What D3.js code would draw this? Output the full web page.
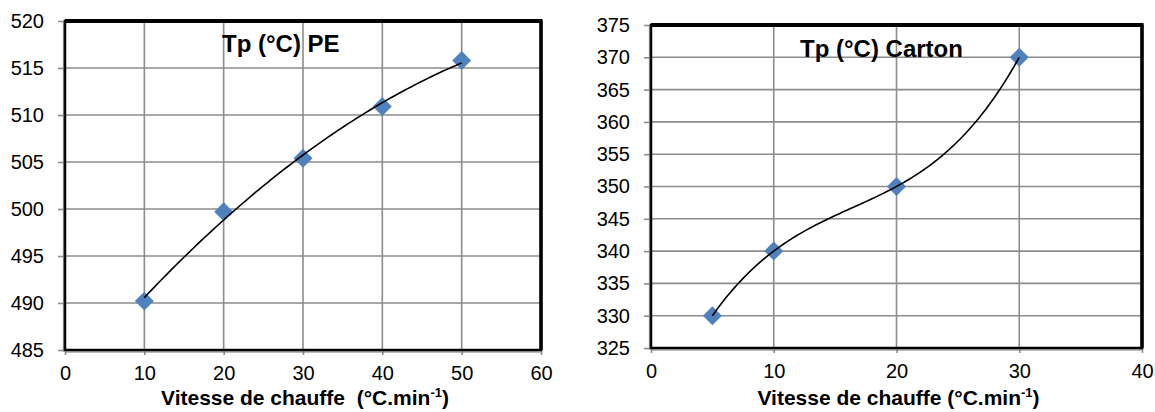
<!DOCTYPE html>
<html>
<head>
<meta charset="utf-8">
<script src="https://cdn.jsdelivr.net/npm/d3@7"></script>
<style>
  html, body { margin: 0; padding: 0; background: #fff; }
  svg { display: block; font-family: "Liberation Sans", Arial, sans-serif; }
</style>
</head>
<body>
<svg id="chart" width="1155" height="412"></svg>
<script>
// ---- Data ----
const peX = [10, 20, 30, 40, 50];
const peY = [490.2, 499.7, 505.4, 510.9, 515.8];
const peTitle = "Tp (°C) PE";
const peXTicks = [0, 10, 20, 30, 40, 50, 60];
const peYTicks = [485, 490, 495, 500, 505, 510, 515, 520];
const peTrendOrder = 2;

const cartonX = [5, 10, 20, 30];
const cartonY = [330, 340, 350, 370];
const cartonTitle = "Tp (°C) Carton";
const cartonXTicks = [0, 10, 20, 30, 40];
const cartonYTicks = [325, 330, 335, 340, 345, 350, 355, 360, 365, 370, 375];
const cartonTrendOrder = 3;

const xTitleMain = ["Vitesse de chauffe  (°C.min", "Vitesse de chauffe (°C.min"];
const xTitleSup = "-1";

const svg = d3.select("#chart");

// least-squares polynomial fit (trendline), solved by Gaussian elimination
function polyFit(xs, ys, order) {
  const n = order + 1;
  const A = Array.from({ length: n }, () => new Array(n + 1).fill(0));
  for (let r = 0; r < n; r++) {
    for (let c = 0; c < n; c++) A[r][c] = d3.sum(xs, x => Math.pow(x, r + c));
    A[r][n] = d3.sum(xs, (x, i) => ys[i] * Math.pow(x, r));
  }
  for (let i = 0; i < n; i++) {
    let p = i;
    for (let k = i + 1; k < n; k++) if (Math.abs(A[k][i]) > Math.abs(A[p][i])) p = k;
    [A[i], A[p]] = [A[p], A[i]];
    for (let k = i + 1; k < n; k++) {
      const f = A[k][i] / A[i][i];
      for (let j = i; j <= n; j++) A[k][j] -= f * A[i][j];
    }
  }
  const coef = new Array(n).fill(0);
  for (let i = n - 1; i >= 0; i--) {
    let s = A[i][n];
    for (let j = i + 1; j < n; j++) s -= A[i][j] * coef[j];
    coef[i] = s / A[i][i];
  }
  return x => coef.reduce((acc, c, k) => acc + c * Math.pow(x, k), 0);
}

function panel(cfg) {
  const { xs, ys, xTicks, yTicks, left, right, top, bottom, title, titleX, titleY, xTitle, order } = cfg;
  const x = d3.scaleLinear().domain([xTicks[0], xTicks[xTicks.length - 1]]).range([left, right]);
  const y = d3.scaleLinear().domain([yTicks[0], yTicks[yTicks.length - 1]]).range([bottom, top]);
  const g = svg.append("g");

  // gridlines
  g.append("g").selectAll("line").data(xTicks.slice(1, -1)).join("line")
    .attr("x1", d => x(d)).attr("x2", d => x(d))
    .attr("y1", top).attr("y2", bottom)
    .attr("stroke", "#8c8c8c").attr("stroke-width", 1.6);
  g.append("g").selectAll("line").data(yTicks.slice(1, -1)).join("line")
    .attr("x1", left).attr("x2", right)
    .attr("y1", d => y(d)).attr("y2", d => y(d))
    .attr("stroke", "#8c8c8c").attr("stroke-width", 1.6);

  // axes
  const yAxis = d3.axisLeft(y).tickValues(yTicks).tickSize(7).tickPadding(14).tickFormat(d3.format("d"));
  const ya = g.append("g").attr("transform", `translate(${left},0)`).call(yAxis);
  const xAxis = d3.axisBottom(x).tickValues(xTicks).tickSize(5).tickPadding(11).tickFormat(d3.format("d"));
  const xa = g.append("g").attr("transform", `translate(0,${bottom})`).call(xAxis);
  [ya, xa].forEach(a => {
    a.select(".domain").remove();
    a.selectAll(".tick line").attr("stroke", "#8c8c8c").attr("stroke-width", 1.6);
    a.selectAll(".tick text").attr("fill", "#000").style("font-size", "20px")
      .style("font-family", '"Liberation Sans", Arial, sans-serif');
  });

  // frame
  g.append("rect").attr("x", left).attr("y", top).attr("width", right - left).attr("height", bottom - top)
    .attr("fill", "none").attr("stroke", "#000").attr("stroke-width", 2.5);
  g.append("line").attr("x1", left).attr("x2", right + 1.5).attr("y1", top).attr("y2", top)
    .attr("stroke", "#000").attr("stroke-width", 4);
  g.append("line").attr("x1", right).attr("x2", right).attr("y1", top).attr("y2", bottom)
    .attr("stroke", "#000").attr("stroke-width", 3.5);
  g.append("line").attr("x1", left - 1.5).attr("x2", left - 1.5).attr("y1", top).attr("y2", bottom + 1.5)
    .attr("stroke", "#777").attr("stroke-width", 1.2);
  g.append("line").attr("x1", left).attr("x2", right).attr("y1", bottom + 1.8).attr("y2", bottom + 1.8)
    .attr("stroke", "#777").attr("stroke-width", 1.2);

  // title
  g.append("text").attr("x", titleX).attr("y", titleY)
    .style("font-size", "24px").style("font-weight", "bold").attr("fill", "#000").text(title);

  const pts = xs.map((v, i) => [v, ys[i]]);

  // markers
  g.append("g").selectAll("path").data(pts).join("path")
    .attr("d", d3.symbol(d3.symbolSquare, 180)())
    .attr("transform", d => `translate(${x(d[0])},${y(d[1])}) rotate(45)`)
    .attr("fill", "#4f81bd");

  // polynomial trendline over the data range
  const f = polyFit(xs, ys, order);
  const x0 = d3.min(xs), x1 = d3.max(xs);
  const samples = d3.range(0, 101).map(i => x0 + (x1 - x0) * i / 100);
  const line = d3.line().x(d => x(d)).y(d => y(f(d)));
  g.append("path").datum(samples).attr("d", line).attr("fill", "none")
    .attr("stroke", "#000").attr("stroke-width", 1.6);

  // x axis title
  const t = g.append("text").attr("x", (left + right) / 2 + 2).attr("y", 405).attr("text-anchor", "middle")
    .style("white-space", "pre").attr("xml:space", "preserve")
    .style("font-size", "21px").style("font-weight", "bold").attr("fill", "#000");
  t.append("tspan").text(xTitle);
  t.append("tspan").attr("dy", -8).style("font-size", "13px").text(xTitleSup);
  t.append("tspan").attr("dy", 8).text(")");
}

panel({ xs: peX, ys: peY, xTicks: peXTicks, yTicks: peYTicks, order: peTrendOrder,
  left: 65, right: 541, top: 21, bottom: 350,
  title: peTitle, titleX: 222, titleY: 52, xTitle: xTitleMain[0] });

panel({ xs: cartonX, ys: cartonY, xTicks: cartonXTicks, yTicks: cartonYTicks, order: cartonTrendOrder,
  left: 651, right: 1142, top: 25, bottom: 348,
  title: cartonTitle, titleX: 800, titleY: 57, xTitle: xTitleMain[1] });
</script>
</body>
</html>
